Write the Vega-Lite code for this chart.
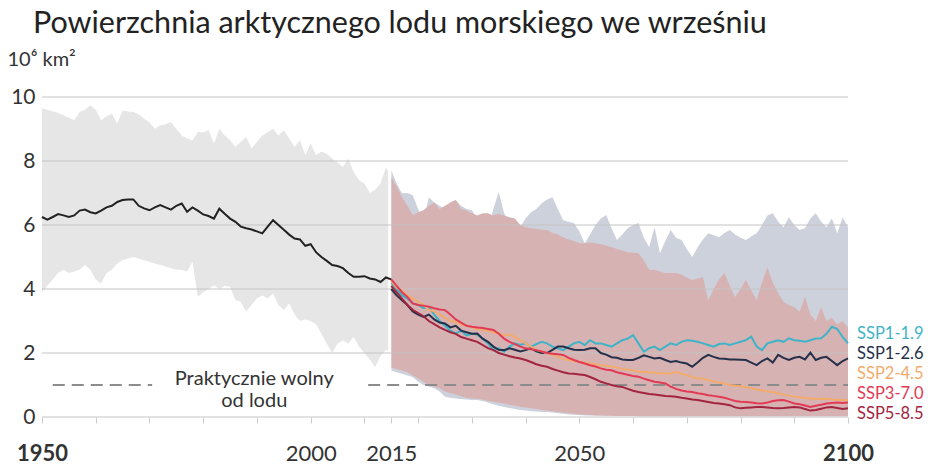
{
  "$schema": "https://vega.github.io/schema/vega-lite/v6.json",
  "width": 806,
  "height": 320,
  "autosize": "none",
  "padding": {"left": 42, "top": 97, "right": 94, "bottom": 48},
  "background": "white",
  "config": {"view": {"stroke": null}, "font": "Lato"},
  "title": {"text": "Powierzchnia arktycznego lodu morskiego we wrześniu", "anchor": "start", "frame": "group", "fontSize": 30.5, "font": "Lato", "fontWeight": "normal", "color": "#222", "dx": -9, "offset": 10},
  "datasets": {
    "hist": [
      {"year":1950,"lo":3.9,"hi":9.65,"v":6.25},{"year":1951,"lo":4.1,"hi":9.6,"v":6.17},{"year":1952,"lo":4.3,"hi":9.55,"v":6.25},{"year":1953,"lo":4.5,"hi":9.5,"v":6.34},{"year":1954,"lo":4.6,"hi":9.43,"v":6.3},{"year":1955,"lo":4.5,"hi":9.35,"v":6.25},{"year":1956,"lo":4.55,"hi":9.27,"v":6.3},{"year":1957,"lo":4.6,"hi":9.53,"v":6.45},{"year":1958,"lo":4.75,"hi":9.6,"v":6.48},{"year":1959,"lo":4.6,"hi":9.74,"v":6.4},
      {"year":1960,"lo":4.3,"hi":9.6,"v":6.36},{"year":1961,"lo":4.17,"hi":9.27,"v":6.45},{"year":1962,"lo":4.5,"hi":9.4,"v":6.55},{"year":1963,"lo":4.6,"hi":9.48,"v":6.6},{"year":1964,"lo":4.8,"hi":9.17,"v":6.72},{"year":1965,"lo":4.9,"hi":9.58,"v":6.78},{"year":1966,"lo":4.95,"hi":9.55,"v":6.8},{"year":1967,"lo":5.0,"hi":9.53,"v":6.8},{"year":1968,"lo":4.95,"hi":9.45,"v":6.6},{"year":1969,"lo":4.9,"hi":9.33,"v":6.52},
      {"year":1970,"lo":4.85,"hi":9.2,"v":6.46},{"year":1971,"lo":4.8,"hi":9.01,"v":6.55},{"year":1972,"lo":4.75,"hi":9.12,"v":6.62},{"year":1973,"lo":4.7,"hi":9.15,"v":6.55},{"year":1974,"lo":4.65,"hi":9.22,"v":6.48},{"year":1975,"lo":4.6,"hi":9.0,"v":6.6},{"year":1976,"lo":4.6,"hi":8.8,"v":6.67},{"year":1977,"lo":4.55,"hi":8.7,"v":6.41},{"year":1978,"lo":4.85,"hi":8.65,"v":6.55},{"year":1979,"lo":3.76,"hi":8.91,"v":6.45},
      {"year":1980,"lo":3.9,"hi":8.9,"v":6.33},{"year":1981,"lo":4.0,"hi":8.96,"v":6.28},{"year":1982,"lo":4.12,"hi":8.55,"v":6.2},{"year":1983,"lo":4.0,"hi":9.01,"v":6.51},{"year":1984,"lo":4.1,"hi":8.8,"v":6.35},{"year":1985,"lo":4.07,"hi":8.65,"v":6.2},{"year":1986,"lo":3.65,"hi":8.44,"v":6.1},{"year":1987,"lo":3.6,"hi":8.6,"v":5.95},{"year":1988,"lo":3.3,"hi":8.75,"v":5.9},{"year":1989,"lo":3.5,"hi":8.39,"v":5.86},
      {"year":1990,"lo":3.7,"hi":8.6,"v":5.8},{"year":1991,"lo":3.8,"hi":8.8,"v":5.74},{"year":1992,"lo":3.7,"hi":8.9,"v":5.95},{"year":1993,"lo":3.86,"hi":9.01,"v":6.15},{"year":1994,"lo":3.5,"hi":8.8,"v":6.0},{"year":1995,"lo":3.34,"hi":8.96,"v":5.85},{"year":1996,"lo":3.55,"hi":8.7,"v":5.7},{"year":1997,"lo":3.2,"hi":8.44,"v":5.58},{"year":1998,"lo":3.0,"hi":8.65,"v":5.55},{"year":1999,"lo":3.05,"hi":8.18,"v":5.35},
      {"year":2000,"lo":3.0,"hi":8.55,"v":5.4},{"year":2001,"lo":2.9,"hi":8.18,"v":5.15},{"year":2002,"lo":2.6,"hi":8.3,"v":5.0},{"year":2003,"lo":2.3,"hi":8.23,"v":4.88},{"year":2004,"lo":2.0,"hi":8.08,"v":4.75},{"year":2005,"lo":2.3,"hi":7.95,"v":4.72},{"year":2006,"lo":2.4,"hi":7.81,"v":4.65},{"year":2007,"lo":2.3,"hi":8.08,"v":4.5},{"year":2008,"lo":2.5,"hi":7.66,"v":4.38},{"year":2009,"lo":2.2,"hi":7.4,"v":4.38},
      {"year":2010,"lo":2.0,"hi":7.3,"v":4.4},{"year":2011,"lo":1.8,"hi":7.0,"v":4.33},{"year":2012,"lo":1.56,"hi":7.1,"v":4.3},{"year":2013,"lo":1.9,"hi":7.3,"v":4.22},{"year":2014,"lo":2.1,"hi":7.8,"v":4.36},{"year":2015,"lo":2.0,"hi":7.5,"v":4.3}
    ],
    "bands": [
      {"year":2015,"blo":1.45,"bhi":7.71,"rlo":1.55,"rhi":7.5},{"year":2016,"blo":1.4,"bhi":7.3,"rlo":1.5,"rhi":7.2},{"year":2017,"blo":1.35,"bhi":6.99,"rlo":1.45,"rhi":6.87},{"year":2018,"blo":1.3,"bhi":7.0,"rlo":1.4,"rhi":6.6},{"year":2019,"blo":1.25,"bhi":6.93,"rlo":1.3,"rhi":6.31},
      {"year":2020,"blo":1.1,"bhi":6.5,"rlo":1.2,"rhi":6.4},{"year":2021,"blo":1.0,"bhi":6.15,"rlo":1.1,"rhi":6.46},{"year":2022,"blo":0.95,"bhi":6.87,"rlo":1.0,"rhi":6.6},{"year":2023,"blo":0.9,"bhi":6.7,"rlo":0.95,"rhi":6.7},{"year":2024,"blo":0.8,"bhi":6.6,"rlo":0.9,"rhi":6.5},
      {"year":2025,"blo":0.63,"bhi":6.5,"rlo":0.8,"rhi":6.6},{"year":2026,"blo":0.6,"bhi":6.7,"rlo":0.75,"rhi":6.7},{"year":2027,"blo":0.58,"bhi":6.78,"rlo":0.7,"rhi":6.78},{"year":2028,"blo":0.56,"bhi":6.6,"rlo":0.65,"rhi":6.5},{"year":2029,"blo":0.55,"bhi":6.5,"rlo":0.6,"rhi":6.45},
      {"year":2030,"blo":0.53,"bhi":6.46,"rlo":0.58,"rhi":6.37},{"year":2031,"blo":0.53,"bhi":6.2,"rlo":0.57,"rhi":6.3},{"year":2032,"blo":0.5,"bhi":6.0,"rlo":0.55,"rhi":6.37},{"year":2033,"blo":0.45,"bhi":5.84,"rlo":0.5,"rhi":6.37},{"year":2034,"blo":0.4,"bhi":6.5,"rlo":0.48,"rhi":6.3},
      {"year":2035,"blo":0.35,"bhi":7.03,"rlo":0.45,"rhi":6.35},{"year":2036,"blo":0.31,"bhi":6.37,"rlo":0.42,"rhi":6.3},{"year":2037,"blo":0.28,"bhi":6.1,"rlo":0.38,"rhi":6.24},{"year":2038,"blo":0.25,"bhi":6.0,"rlo":0.35,"rhi":6.2},{"year":2039,"blo":0.22,"bhi":5.93,"rlo":0.32,"rhi":6.0},
      {"year":2040,"blo":0.2,"bhi":6.2,"rlo":0.3,"rhi":5.93},{"year":2041,"blo":0.18,"bhi":6.4,"rlo":0.27,"rhi":5.9},{"year":2042,"blo":0.17,"bhi":6.5,"rlo":0.25,"rhi":5.88},{"year":2043,"blo":0.16,"bhi":6.68,"rlo":0.22,"rhi":5.85},{"year":2044,"blo":0.16,"bhi":6.8,"rlo":0.2,"rhi":5.84},
      {"year":2045,"blo":0.14,"bhi":6.87,"rlo":0.18,"rhi":5.75},{"year":2046,"blo":0.12,"bhi":6.5,"rlo":0.16,"rhi":5.7},{"year":2047,"blo":0.1,"bhi":6.15,"rlo":0.14,"rhi":5.62},{"year":2048,"blo":0.08,"bhi":6.1,"rlo":0.12,"rhi":5.55},{"year":2049,"blo":0.07,"bhi":6.06,"rlo":0.1,"rhi":5.5},
      {"year":2050,"blo":0.06,"bhi":5.8,"rlo":0.08,"rhi":5.43},{"year":2051,"blo":0.05,"bhi":5.43,"rlo":0.07,"rhi":5.43},{"year":2052,"blo":0.05,"bhi":5.7,"rlo":0.06,"rhi":5.45},{"year":2053,"blo":0.05,"bhi":6.0,"rlo":0.05,"rhi":5.43},{"year":2054,"blo":0.04,"bhi":6.2,"rlo":0.05,"rhi":5.4},
      {"year":2055,"blo":0.04,"bhi":6.31,"rlo":0.04,"rhi":5.35},{"year":2056,"blo":0.04,"bhi":5.9,"rlo":0.04,"rhi":5.31},{"year":2057,"blo":0.03,"bhi":5.53,"rlo":0.03,"rhi":5.25},{"year":2058,"blo":0.03,"bhi":5.7,"rlo":0.03,"rhi":5.2},{"year":2059,"blo":0.03,"bhi":5.9,"rlo":0.03,"rhi":5.15},
      {"year":2060,"blo":0.03,"bhi":6.0,"rlo":0.03,"rhi":5.13},{"year":2061,"blo":0.02,"bhi":6.06,"rlo":0.02,"rhi":5.12},{"year":2062,"blo":0.02,"bhi":5.6,"rlo":0.02,"rhi":4.9},{"year":2063,"blo":0.02,"bhi":5.31,"rlo":0.02,"rhi":4.59},{"year":2064,"blo":0.02,"bhi":5.93,"rlo":0.02,"rhi":4.6},
      {"year":2065,"blo":0.02,"bhi":5.12,"rlo":0.02,"rhi":4.55},{"year":2066,"blo":0.02,"bhi":5.5,"rlo":0.02,"rhi":4.5},{"year":2067,"blo":0.02,"bhi":5.84,"rlo":0.02,"rhi":4.5},{"year":2068,"blo":0.02,"bhi":5.6,"rlo":0.02,"rhi":4.5},{"year":2069,"blo":0.02,"bhi":5.53,"rlo":0.02,"rhi":4.45},
      {"year":2070,"blo":0.02,"bhi":5.25,"rlo":0.02,"rhi":4.35},{"year":2071,"blo":0.02,"bhi":5.0,"rlo":0.02,"rhi":4.28},{"year":2072,"blo":0.02,"bhi":5.3,"rlo":0.02,"rhi":4.33},{"year":2073,"blo":0.02,"bhi":5.55,"rlo":0.02,"rhi":4.37},{"year":2074,"blo":0.02,"bhi":5.74,"rlo":0.02,"rhi":3.65},
      {"year":2075,"blo":0.02,"bhi":5.68,"rlo":0.02,"rhi":4.0},{"year":2076,"blo":0.02,"bhi":5.62,"rlo":0.02,"rhi":4.3},{"year":2077,"blo":0.02,"bhi":5.75,"rlo":0.02,"rhi":4.5},{"year":2078,"blo":0.02,"bhi":5.84,"rlo":0.02,"rhi":4.1},{"year":2079,"blo":0.02,"bhi":5.7,"rlo":0.02,"rhi":3.75},
      {"year":2080,"blo":0.02,"bhi":5.6,"rlo":0.02,"rhi":4.0},{"year":2081,"blo":0.02,"bhi":5.53,"rlo":0.02,"rhi":4.28},{"year":2082,"blo":0.02,"bhi":5.65,"rlo":0.02,"rhi":3.95},{"year":2083,"blo":0.02,"bhi":5.74,"rlo":0.02,"rhi":3.65},{"year":2084,"blo":0.02,"bhi":6.0,"rlo":0.02,"rhi":4.2},
      {"year":2085,"blo":0.02,"bhi":6.3,"rlo":0.02,"rhi":4.68},{"year":2086,"blo":0.02,"bhi":6.37,"rlo":0.02,"rhi":4.2},{"year":2087,"blo":0.02,"bhi":6.1,"rlo":0.02,"rhi":3.87},{"year":2088,"blo":0.02,"bhi":5.93,"rlo":0.02,"rhi":3.6},{"year":2089,"blo":0.02,"bhi":6.24,"rlo":0.02,"rhi":3.5},
      {"year":2090,"blo":0.02,"bhi":6.0,"rlo":0.02,"rhi":3.43},{"year":2091,"blo":0.02,"bhi":5.84,"rlo":0.02,"rhi":3.3},{"year":2092,"blo":0.02,"bhi":5.9,"rlo":0.02,"rhi":3.75},{"year":2093,"blo":0.02,"bhi":6.2,"rlo":0.02,"rhi":3.2},{"year":2094,"blo":0.02,"bhi":6.37,"rlo":0.02,"rhi":3.0},
      {"year":2095,"blo":0.02,"bhi":6.1,"rlo":0.02,"rhi":3.43},{"year":2096,"blo":0.02,"bhi":5.93,"rlo":0.02,"rhi":3.0},{"year":2097,"blo":0.02,"bhi":6.21,"rlo":0.02,"rhi":3.1},{"year":2098,"blo":0.02,"bhi":5.74,"rlo":0.02,"rhi":2.9},{"year":2099,"blo":0.02,"bhi":6.24,"rlo":0.02,"rhi":3.0},
      {"year":2100,"blo":0.02,"bhi":5.93,"rlo":0.02,"rhi":2.8}
    ],
    "proj": [
      {"year":2015,"ssp119":4.2,"ssp126":4.0,"ssp245":4.25,"ssp370":4.3,"ssp585":4.1},
      {"year":2016,"ssp119":4.0,"ssp126":3.8,"ssp245":4.05,"ssp370":4.1,"ssp585":3.9},
      {"year":2017,"ssp119":3.8,"ssp126":3.65,"ssp245":3.95,"ssp370":3.9,"ssp585":3.7},
      {"year":2018,"ssp119":3.7,"ssp126":3.5,"ssp245":3.8,"ssp370":3.75,"ssp585":3.5},
      {"year":2019,"ssp119":3.55,"ssp126":3.3,"ssp245":3.7,"ssp370":3.55,"ssp585":3.35},
      {"year":2020,"ssp119":3.5,"ssp126":3.2,"ssp245":3.6,"ssp370":3.5,"ssp585":3.25},
      {"year":2021,"ssp119":3.4,"ssp126":3.13,"ssp245":3.5,"ssp370":3.48,"ssp585":3.15},
      {"year":2022,"ssp119":3.44,"ssp126":3.2,"ssp245":3.35,"ssp370":3.45,"ssp585":3.0},
      {"year":2023,"ssp119":3.2,"ssp126":3.05,"ssp245":3.3,"ssp370":3.4,"ssp585":2.9},
      {"year":2024,"ssp119":3.0,"ssp126":2.95,"ssp245":3.2,"ssp370":3.36,"ssp585":2.8},
      {"year":2025,"ssp119":2.85,"ssp126":2.92,"ssp245":3.1,"ssp370":3.34,"ssp585":2.72},
      {"year":2026,"ssp119":2.7,"ssp126":2.8,"ssp245":3.0,"ssp370":3.2,"ssp585":2.65},
      {"year":2027,"ssp119":2.61,"ssp126":2.85,"ssp245":2.97,"ssp370":3.05,"ssp585":2.6},
      {"year":2028,"ssp119":2.7,"ssp126":2.7,"ssp245":2.9,"ssp370":2.95,"ssp585":2.5},
      {"year":2029,"ssp119":2.55,"ssp126":2.65,"ssp245":2.85,"ssp370":2.85,"ssp585":2.45},
      {"year":2030,"ssp119":2.6,"ssp126":2.6,"ssp245":2.8,"ssp370":2.82,"ssp585":2.4},
      {"year":2031,"ssp119":2.58,"ssp126":2.61,"ssp245":2.75,"ssp370":2.8,"ssp585":2.35},
      {"year":2032,"ssp119":2.45,"ssp126":2.45,"ssp245":2.72,"ssp370":2.78,"ssp585":2.25},
      {"year":2033,"ssp119":2.3,"ssp126":2.35,"ssp245":2.7,"ssp370":2.75,"ssp585":2.15},
      {"year":2034,"ssp119":2.09,"ssp126":2.2,"ssp245":2.65,"ssp370":2.72,"ssp585":2.09},
      {"year":2035,"ssp119":2.15,"ssp126":2.1,"ssp245":2.6,"ssp370":2.6,"ssp585":2.0},
      {"year":2036,"ssp119":2.04,"ssp126":2.09,"ssp245":2.55,"ssp370":2.45,"ssp585":1.95},
      {"year":2037,"ssp119":2.2,"ssp126":2.15,"ssp245":2.58,"ssp370":2.35,"ssp585":1.9},
      {"year":2038,"ssp119":2.3,"ssp126":2.1,"ssp245":2.5,"ssp370":2.28,"ssp585":1.86},
      {"year":2039,"ssp119":2.25,"ssp126":2.05,"ssp245":2.4,"ssp370":2.2,"ssp585":1.83},
      {"year":2040,"ssp119":2.3,"ssp126":2.09,"ssp245":2.3,"ssp370":2.15,"ssp585":1.78},
      {"year":2041,"ssp119":2.2,"ssp126":2.15,"ssp245":2.2,"ssp370":2.12,"ssp585":1.72},
      {"year":2042,"ssp119":2.28,"ssp126":2.05,"ssp245":2.09,"ssp370":2.09,"ssp585":1.65},
      {"year":2043,"ssp119":2.35,"ssp126":2.0,"ssp245":2.05,"ssp370":2.05,"ssp585":1.6},
      {"year":2044,"ssp119":2.3,"ssp126":2.0,"ssp245":1.98,"ssp370":2.0,"ssp585":1.57},
      {"year":2045,"ssp119":2.2,"ssp126":2.1,"ssp245":1.95,"ssp370":1.98,"ssp585":1.5},
      {"year":2046,"ssp119":2.15,"ssp126":2.2,"ssp245":1.88,"ssp370":1.96,"ssp585":1.45},
      {"year":2047,"ssp119":2.09,"ssp126":2.2,"ssp245":1.82,"ssp370":1.94,"ssp585":1.4},
      {"year":2048,"ssp119":2.2,"ssp126":2.15,"ssp245":1.78,"ssp370":1.85,"ssp585":1.36},
      {"year":2049,"ssp119":2.3,"ssp126":2.1,"ssp245":1.75,"ssp370":1.78,"ssp585":1.35},
      {"year":2050,"ssp119":2.35,"ssp126":2.09,"ssp245":1.72,"ssp370":1.72,"ssp585":1.33},
      {"year":2051,"ssp119":2.25,"ssp126":2.1,"ssp245":1.7,"ssp370":1.67,"ssp585":1.31},
      {"year":2052,"ssp119":2.4,"ssp126":2.15,"ssp245":1.67,"ssp370":1.62,"ssp585":1.25},
      {"year":2053,"ssp119":2.3,"ssp126":2.15,"ssp245":1.65,"ssp370":1.58,"ssp585":1.18},
      {"year":2054,"ssp119":2.3,"ssp126":2.0,"ssp245":1.62,"ssp370":1.52,"ssp585":1.1},
      {"year":2055,"ssp119":2.25,"ssp126":1.95,"ssp245":1.6,"ssp370":1.48,"ssp585":1.05},
      {"year":2056,"ssp119":2.2,"ssp126":1.87,"ssp245":1.57,"ssp370":1.46,"ssp585":1.0},
      {"year":2057,"ssp119":2.3,"ssp126":1.85,"ssp245":1.55,"ssp370":1.4,"ssp585":0.96},
      {"year":2058,"ssp119":2.4,"ssp126":1.8,"ssp245":1.5,"ssp370":1.36,"ssp585":0.94},
      {"year":2059,"ssp119":2.45,"ssp126":1.78,"ssp245":1.48,"ssp370":1.32,"ssp585":0.88},
      {"year":2060,"ssp119":2.56,"ssp126":1.78,"ssp245":1.45,"ssp370":1.28,"ssp585":0.82},
      {"year":2061,"ssp119":2.3,"ssp126":1.85,"ssp245":1.42,"ssp370":1.26,"ssp585":0.78},
      {"year":2062,"ssp119":2.04,"ssp126":1.93,"ssp245":1.41,"ssp370":1.2,"ssp585":0.75},
      {"year":2063,"ssp119":2.15,"ssp126":1.88,"ssp245":1.4,"ssp370":1.15,"ssp585":0.72},
      {"year":2064,"ssp119":2.2,"ssp126":1.83,"ssp245":1.38,"ssp370":1.1,"ssp585":0.7},
      {"year":2065,"ssp119":2.09,"ssp126":1.85,"ssp245":1.37,"ssp370":1.08,"ssp585":0.68},
      {"year":2066,"ssp119":2.2,"ssp126":1.78,"ssp245":1.36,"ssp370":1.05,"ssp585":0.66},
      {"year":2067,"ssp119":2.3,"ssp126":1.72,"ssp245":1.36,"ssp370":0.95,"ssp585":0.65},
      {"year":2068,"ssp119":2.25,"ssp126":1.75,"ssp245":1.41,"ssp370":0.88,"ssp585":0.63},
      {"year":2069,"ssp119":2.35,"ssp126":1.7,"ssp245":1.35,"ssp370":0.83,"ssp585":0.6},
      {"year":2070,"ssp119":2.4,"ssp126":1.67,"ssp245":1.3,"ssp370":0.8,"ssp585":0.58},
      {"year":2071,"ssp119":2.38,"ssp126":1.57,"ssp245":1.25,"ssp370":0.78,"ssp585":0.55},
      {"year":2072,"ssp119":2.35,"ssp126":1.7,"ssp245":1.2,"ssp370":0.74,"ssp585":0.53},
      {"year":2073,"ssp119":2.3,"ssp126":1.85,"ssp245":1.2,"ssp370":0.72,"ssp585":0.5},
      {"year":2074,"ssp119":2.25,"ssp126":1.94,"ssp245":1.15,"ssp370":0.68,"ssp585":0.47},
      {"year":2075,"ssp119":2.2,"ssp126":1.88,"ssp245":1.12,"ssp370":0.66,"ssp585":0.44},
      {"year":2076,"ssp119":2.28,"ssp126":1.83,"ssp245":1.08,"ssp370":0.63,"ssp585":0.42},
      {"year":2077,"ssp119":2.3,"ssp126":1.82,"ssp245":1.05,"ssp370":0.6,"ssp585":0.4},
      {"year":2078,"ssp119":2.25,"ssp126":1.8,"ssp245":1.0,"ssp370":0.55,"ssp585":0.37},
      {"year":2079,"ssp119":2.3,"ssp126":1.8,"ssp245":0.98,"ssp370":0.5,"ssp585":0.3},
      {"year":2080,"ssp119":2.35,"ssp126":1.79,"ssp245":0.96,"ssp370":0.48,"ssp585":0.27},
      {"year":2081,"ssp119":2.4,"ssp126":1.78,"ssp245":0.94,"ssp370":0.47,"ssp585":0.29},
      {"year":2082,"ssp119":2.51,"ssp126":1.7,"ssp245":0.9,"ssp370":0.45,"ssp585":0.3},
      {"year":2083,"ssp119":2.2,"ssp126":1.62,"ssp245":0.86,"ssp370":0.43,"ssp585":0.31},
      {"year":2084,"ssp119":2.09,"ssp126":1.75,"ssp245":0.83,"ssp370":0.42,"ssp585":0.31},
      {"year":2085,"ssp119":2.3,"ssp126":1.83,"ssp245":0.8,"ssp370":0.45,"ssp585":0.3},
      {"year":2086,"ssp119":2.35,"ssp126":1.7,"ssp245":0.78,"ssp370":0.5,"ssp585":0.28},
      {"year":2087,"ssp119":2.4,"ssp126":1.94,"ssp245":0.74,"ssp370":0.52,"ssp585":0.27},
      {"year":2088,"ssp119":2.35,"ssp126":1.85,"ssp245":0.7,"ssp370":0.53,"ssp585":0.28},
      {"year":2089,"ssp119":2.46,"ssp126":1.78,"ssp245":0.66,"ssp370":0.48,"ssp585":0.3},
      {"year":2090,"ssp119":2.4,"ssp126":1.85,"ssp245":0.63,"ssp370":0.42,"ssp585":0.31},
      {"year":2091,"ssp119":2.38,"ssp126":1.88,"ssp245":0.62,"ssp370":0.4,"ssp585":0.3},
      {"year":2092,"ssp119":2.35,"ssp126":1.8,"ssp245":0.6,"ssp370":0.36,"ssp585":0.25},
      {"year":2093,"ssp119":2.4,"ssp126":2.01,"ssp245":0.57,"ssp370":0.31,"ssp585":0.2},
      {"year":2094,"ssp119":2.45,"ssp126":1.78,"ssp245":0.58,"ssp370":0.35,"ssp585":0.22},
      {"year":2095,"ssp119":2.46,"ssp126":1.85,"ssp245":0.56,"ssp370":0.38,"ssp585":0.26},
      {"year":2096,"ssp119":2.6,"ssp126":1.88,"ssp245":0.57,"ssp370":0.42,"ssp585":0.3},
      {"year":2097,"ssp119":2.82,"ssp126":1.75,"ssp245":0.55,"ssp370":0.44,"ssp585":0.31},
      {"year":2098,"ssp119":2.75,"ssp126":1.62,"ssp245":0.54,"ssp370":0.45,"ssp585":0.28},
      {"year":2099,"ssp119":2.5,"ssp126":1.75,"ssp245":0.53,"ssp370":0.44,"ssp585":0.25},
      {"year":2100,"ssp119":2.3,"ssp126":1.83,"ssp245":0.53,"ssp370":0.45,"ssp585":0.27}
    ],
    "labels": [
      {"year":2100,"v":2.44,"scenario":"ssp119","label":"SSP1-1.9"},
      {"year":2100,"v":1.81,"scenario":"ssp126","label":"SSP1-2.6"},
      {"year":2100,"v":1.19,"scenario":"ssp245","label":"SSP2-4.5"},
      {"year":2100,"v":0.56,"scenario":"ssp370","label":"SSP3-7.0"},
      {"year":2100,"v":-0.06,"scenario":"ssp585","label":"SSP5-8.5"}
    ],
    "grid": [{"v":0},{"v":2},{"v":4},{"v":6},{"v":8},{"v":10}],
    "threshold": [{"year":1952,"year2":1970.5,"v":1},{"year":2010.7,"year2":2100,"v":1}],
    "note": [{"year":1989.5,"v":1,"label":["Praktycznie wolny","od lodu"]}],
    "divider": [{"year":2014.7,"v":0,"v2":8}]
  },
  "layer": [
    {
      "data": {"name": "hist"},
      "mark": {"type": "area", "color": "#e6e6e6", "interpolate": "linear"},
      "encoding": {
        "x": {"field": "year", "type": "quantitative", "scale": {"domain": [1950, 2100], "nice": false, "zero": false},
          "axis": {"values": [1950,1960,1970,1980,1990,2000,2010,2015,2020,2030,2040,2050,2060,2070,2080,2090,2100],
            "labelExpr": "indexof([1950,2000,2015,2050,2100], datum.value) >= 0 ? datum.value : ''",
            "format": "d", "grid": false, "domain": false, "tickColor": "#cccccc", "tickSize": 6, "tickWidth": 1,
            "labelFontSize": 22, "labelFont": "Lato", "labelColor": "#333333", "labelPadding": 20,
            "labelFontWeight": {"condition": {"test": "datum.value == 2100 || datum.value == 1950", "value": "bold"}, "value": "normal"},
            "labelFlush": false, "labelOverlap": false, "labelBaseline": "top", "title": null}},
        "y": {"field": "hi", "type": "quantitative", "scale": {"domain": [0, 10], "nice": false},
          "title": "10⁶ km²",
          "axis": {"values": [0,2,4,6,8,10], "grid": false, "domain": false, "ticks": false,
            "labelFontSize": 21, "labelFont": "Lato", "labelColor": "#333333", "labelPadding": 7,
            "titleAngle": 0, "titleAlign": "left", "titleBaseline": "alphabetic", "titleX": -35, "titleY": -32,
            "titleFontSize": 20, "titleFont": "Lato", "titleFontWeight": "normal", "titleColor": "#333333"}},
        "y2": {"field": "lo"}
      }
    },
    {
      "data": {"name": "bands"},
      "mark": {"type": "area", "color": "#cdd1dc"},
      "encoding": {
        "x": {"field": "year", "type": "quantitative"},
        "y": {"field": "bhi", "type": "quantitative"},
        "y2": {"field": "blo"}
      }
    },
    {
      "data": {"name": "bands"},
      "mark": {"type": "area", "color": "#d7b2b2"},
      "encoding": {
        "x": {"field": "year", "type": "quantitative"},
        "y": {"field": "rhi", "type": "quantitative"},
        "y2": {"field": "rlo"}
      }
    },
    {
      "data": {"name": "divider"},
      "mark": {"type": "rule", "color": "white", "strokeWidth": 3},
      "encoding": {
        "x": {"field": "year", "type": "quantitative"},
        "y": {"field": "v", "type": "quantitative"},
        "y2": {"field": "v2"}
      }
    },
    {
      "data": {"name": "grid"},
      "mark": {"type": "rule", "color": "#c4c4c4", "strokeWidth": 1},
      "encoding": {
        "y": {"field": "v", "type": "quantitative"}
      }
    },
    {
      "data": {"name": "threshold"},
      "mark": {"type": "rule", "color": "#8c8c8c", "strokeWidth": 2, "strokeDash": [12, 7]},
      "encoding": {
        "x": {"field": "year", "type": "quantitative"},
        "x2": {"field": "year2"},
        "y": {"field": "v", "type": "quantitative"}
      }
    },
    {
      "data": {"name": "note"},
      "mark": {"type": "text", "align": "center", "baseline": "alphabetic", "fontSize": 20, "font": "Lato", "color": "#333333", "lineHeight": 22},
      "encoding": {
        "x": {"field": "year", "type": "quantitative"},
        "y": {"field": "v", "type": "quantitative"},
        "text": {"field": "label"}
      }
    },
    {
      "data": {"name": "hist"},
      "mark": {"type": "line", "color": "#222222", "strokeWidth": 2},
      "encoding": {
        "x": {"field": "year", "type": "quantitative"},
        "y": {"field": "v", "type": "quantitative"}
      }
    },
    {
      "data": {"name": "proj"},
      "transform": [{"fold": ["ssp119", "ssp126", "ssp245", "ssp370", "ssp585"], "as": ["scenario", "v"]}],
      "mark": {"type": "line", "strokeWidth": 2},
      "encoding": {
        "x": {"field": "year", "type": "quantitative"},
        "y": {"field": "v", "type": "quantitative"},
        "color": {"field": "scenario", "type": "nominal", "legend": null,
          "scale": {"domain": ["ssp119", "ssp126", "ssp245", "ssp370", "ssp585"], "range": ["#3fb3c7", "#25304a", "#f2ab6c", "#e23a55", "#a3243f"]}}
      }
    },
    {
      "data": {"name": "labels"},
      "mark": {"type": "text", "align": "left", "baseline": "alphabetic", "dx": 9, "fontSize": 16.5, "font": "Lato"},
      "encoding": {
        "x": {"field": "year", "type": "quantitative"},
        "y": {"field": "v", "type": "quantitative"},
        "text": {"field": "label"},
        "color": {"field": "scenario", "type": "nominal", "legend": null}
      }
    }
  ]
}
